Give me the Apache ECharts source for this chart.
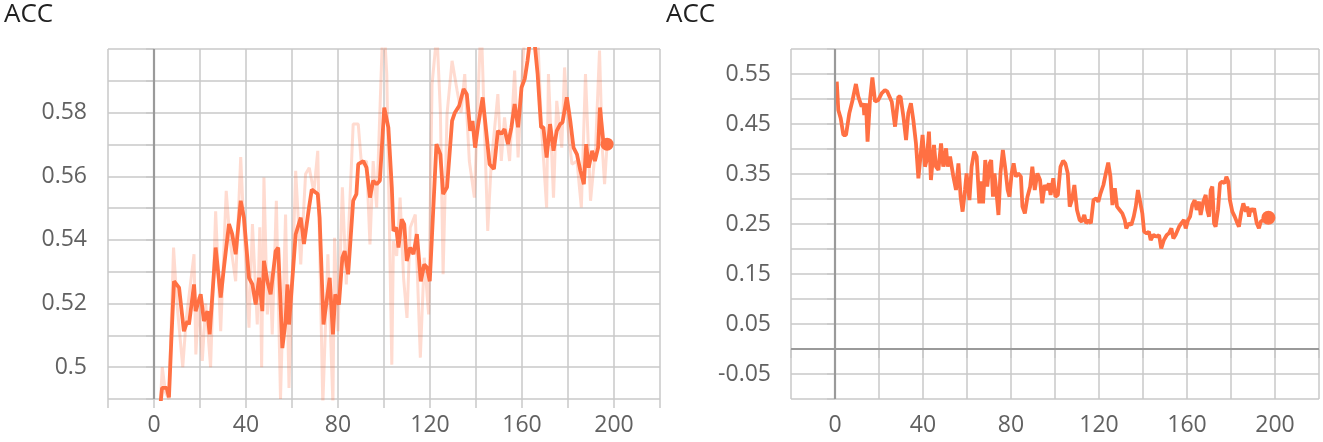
<!DOCTYPE html>
<html>
<head>
<meta charset="utf-8">
<script src="https://cdn.jsdelivr.net/npm/echarts@6/dist/echarts.min.js"></script>
<style>
html,body{margin:0;padding:0;background:#fff;}
#c{width:1323px;height:442px;}
</style>
</head>
<body>
<div id="c"></div>
<script>
// ---- data (step, value) ----
const titles = ['ACC', 'ACC'];

const leftSmooth = [[0,0.475],[2,0.482],[3.5,0.4935],[5.5,0.4935],[6.5,0.4905],[7.5,0.508],[8.7,0.527],[10.9,0.525],[13,0.5113],[14.5,0.5145],
[15.2,0.5134],[17.4,0.526],[18.1,0.5176],[20.3,0.5229],[21.7,0.5145],[23.2,0.5176],[24.2,0.5103],[26.8,0.5376],[29,0.5219],[30.4,0.5313],
[32.6,0.545],[34,0.5418],[35.5,0.5355],[37.7,0.5523],[39.1,0.547],[41.3,0.5281],[42.8,0.526],[44.2,0.5197],[45.7,0.5281],[47.1,0.5176],
[47.8,0.5334],[49.3,0.527],[50.7,0.5229],[52.9,0.5365],[54,0.5376],[55.8,0.506],[57.2,0.5145],[58,0.526],[58.7,0.5134],[61.6,0.5418],
[63.8,0.547],[65.2,0.5387],[67.4,0.5502],[68.6,0.5558],[71.2,0.5544],[72,0.547],[73.7,0.5134],[76.4,0.5281],[77.8,0.5103],[78.8,0.5229],
[80.4,0.5197],[81.9,0.5344],[82.9,0.5365],[84.4,0.5292],[86.6,0.5523],[88,0.5544],[88.8,0.5638],[91,0.5648],[92.4,0.5627],[93.9,0.5533],
[95.3,0.5586],[96.8,0.5575],[98.2,0.5586],[100.1,0.5816],[101.9,0.5753],[103.4,0.5565],[104.1,0.5428],[105.3,0.5439],[106.3,0.5376],[107.7,0.5465],
[108.8,0.5449],[109.9,0.5334],[111.4,0.5376],[112.8,0.5355],[114.3,0.5418],[116,0.527],[117.5,0.5323],[118.7,0.5313],[119.9,0.527],[121.6,0.5523],
[122.8,0.5701],[124.5,0.5669],[125.7,0.5544],[127.4,0.5565],[129.6,0.5774],[130.8,0.58],[132.7,0.5822],[134.6,0.5874],[136,0.5858],[137.5,0.5743],
[138.5,0.5774],[139.6,0.569],[141,0.5764],[142.9,0.5848],[144.4,0.5743],[145.9,0.5638],[147.8,0.5623],[149.5,0.5743],[151,0.5733],[152.4,0.5748],
[153.9,0.5701],[155.4,0.5754],[156.8,0.5827],[158.3,0.5754],[159.8,0.5879],[161.2,0.5906],[162.4,0.5963],[164,0.606],[165.6,0.601],[166.8,0.5921],
[168.3,0.5754],[169.3,0.5754],[170.7,0.5659],[172.2,0.5764],[173.7,0.568],[175.1,0.5743],[176.6,0.5764],[177.6,0.5769],[179.5,0.5848],[181,0.5774],
[182.4,0.569],[183.9,0.5669],[185.4,0.5617],[186.9,0.5575],[187.9,0.5701],[189,0.5627],[190.5,0.568],[191.7,0.5648],[193.1,0.569],[193.9,0.5816],
[194.9,0.5743],[195.6,0.569],[197,0.5701]];

const leftRaw = [[0,0.47],[2.5,0.485],[3.6,0.5],[5,0.492],[6.5,0.49],[8.5,0.5376],[10,0.52],[12.5,0.5],[14,0.515],[17.4,0.5355],
[18.2,0.504],[19.5,0.522],[21,0.502],[22.5,0.52],[24.6,0.5],[26.8,0.549],[29,0.5113],[31.4,0.5554],[33,0.54],[35.5,0.527],
[37.7,0.566],[39,0.545],[41.3,0.5124],[42.8,0.545],[44.9,0.5134],[46,0.544],[46.8,0.5],[47.8,0.5596],[49.3,0.5166],[50.5,0.53],
[51.4,0.5103],[53.2,0.5523],[55,0.49],[57.2,0.548],[58.7,0.4935],[61.6,0.5617],[63.8,0.5323],[65.9,0.5607],[67.5,0.5627],[69.5,0.555],
[71.2,0.568],[73.4,0.488],[75.6,0.5355],[77.8,0.488],[78.5,0.5407],[80,0.5113],[81.9,0.5565],[83.6,0.526],[86.6,0.5764],[88.8,0.5764],
[90.2,0.5638],[92.4,0.5648],[93.9,0.5386],[95.3,0.5648],[96.8,0.5502],[99.7,0.612],[101.2,0.5921],[103.4,0.5008],[104.1,0.5397],[105.5,0.535],
[107,0.5533],[108.5,0.5281],[110,0.5155],[111.4,0.5439],[113.6,0.548],[115.8,0.503],[117.5,0.5344],[119.4,0.5166],[120.9,0.589],[123,0.605],
[124.5,0.5806],[125.7,0.5292],[127.4,0.5795],[129.6,0.5963],[131.8,0.5869],[133.5,0.58],[135.1,0.5921],[137.1,0.5648],[139.3,0.5533],[142.2,0.61],
[145.1,0.5428],[146.6,0.5638],[149.5,0.5858],[151,0.5648],[152.4,0.5785],[154.6,0.5648],[156.8,0.5932],[158.3,0.5659],[160.5,0.5974],[162,0.612],
[164,0.61],[166.4,0.612],[168.5,0.575],[170.7,0.5502],[171.5,0.5921],[173.7,0.5533],[175.1,0.5837],[177.3,0.569],[178.5,0.5942],[180,0.575],
[181.7,0.5638],[183.9,0.5648],[185.8,0.5502],[187.6,0.5921],[189.8,0.5523],[192,0.569],[193.7,0.5995],[194.9,0.569],[195.9,0.5575],[197,0.5701]];

const rightValues = [[0.8,0.5347],[1.5,0.478],[2.6,0.4613],[3.8,0.428],[5,0.428],[6.5,0.4713],[8,0.498],[9.5,0.53],[10.6,0.5047],[12.1,0.4847],
[12.9,0.4913],[13.3,0.468],[14.1,0.4913],[14.8,0.4147],[15.9,0.498],[17,0.5433],[18.2,0.4947],[19.7,0.498],[21.2,0.5113],[22.7,0.518],
[23.8,0.5147],[24.7,0.5113],[25.8,0.4947],[27.3,0.4447],[28.8,0.5047],[29.8,0.5047],[31.1,0.4647],[32.3,0.418],[33.3,0.4713],[34.5,0.4913],
[35.6,0.458],[36.8,0.4113],[37.9,0.3413],[38.6,0.338],[39.8,0.428],[40.9,0.3647],[41.7,0.378],[42.7,0.4347],[43.6,0.338],[45,0.408],
[45.9,0.3647],[47,0.358],[48.2,0.4113],[49.2,0.3647],[50.5,0.4013],[51.2,0.3647],[52.3,0.3847],[53.8,0.3447],[55,0.318],[56.1,0.3713],
[57.1,0.3047],[58,0.2747],[59.1,0.318],[59.8,0.3513],[61.1,0.298],[62.1,0.3647],[63.3,0.3947],[64.4,0.3847],[65.6,0.2913],[66.5,0.335],
[67.3,0.2913],[68.3,0.378],[69.2,0.3247],[70.3,0.3713],[71,0.378],[71.8,0.3047],[72.5,0.3513],[73.3,0.318],[74.3,0.268],[75.2,0.3513],
[76.3,0.398],[77.3,0.3647],[78.5,0.318],[79.3,0.3047],[80.3,0.3513],[81.2,0.3713],[82.2,0.3447],[83.3,0.3513],[84.5,0.3447],[85.2,0.2847],
[86.3,0.2713],[87.5,0.3047],[88.7,0.3247],[89.7,0.3647],[90.8,0.318],[92,0.3513],[93.2,0.338],[94.2,0.2913],[95.3,0.328],[96.2,0.318],
[97.2,0.3313],[98,0.308],[99.2,0.3413],[100.2,0.3047],[101.3,0.308],[102.5,0.3647],[103.7,0.3767],[104.7,0.3713],[105.8,0.3513],[106.7,0.2847],
[107.7,0.298],[108.8,0.328],[110,0.278],[111.2,0.258],[112.2,0.2547],[113.3,0.268],[114.2,0.2513],[115.2,0.258],[116.3,0.2513],[117.5,0.298],
[118.7,0.3013],[119.7,0.2947],[120.7,0.3113],[122,0.328],[123.1,0.3513],[124.2,0.3727],[125.2,0.3447],[126.1,0.288],[127.2,0.3213],[128.2,0.2847],
[129.4,0.278],[130.6,0.2713],[131.7,0.258],[132.4,0.2413],[133.6,0.2513],[134.7,0.248],[135.8,0.265],[136.7,0.2847],[137.7,0.318],[138.6,0.3213],
[139.7,0.2713],[140.5,0.2347],[141.7,0.2313],[142.7,0.2347],[143.5,0.218],[144.7,0.228],[146.2,0.2247],[147.3,0.228],[148.3,0.2013],[149.5,0.218],
[150.8,0.228],[151.8,0.2313],[152.9,0.2413],[153.8,0.2213],[154.8,0.228],[156.4,0.2447],[157.4,0.2513],[158.6,0.258],[159.4,0.2413],[160.5,0.258],
[161.4,0.2647],[162.4,0.288],[163.5,0.298],[164.4,0.278],[165.5,0.2947],[166.2,0.268],[167.4,0.2947],[168.5,0.308],[169.2,0.278],[170,0.2647],
[170.8,0.318],[171.5,0.3247],[172.3,0.2513],[173,0.2447],[174.1,0.278],[175,0.3313],[176.1,0.3347],[177.1,0.3313],[177.9,0.3447],[178.8,0.3347],
[179.5,0.298],[180.6,0.2747],[181.7,0.2647],[182.6,0.2547],[183.6,0.2447],[184.7,0.2747],[185.6,0.2913],[186.7,0.2747],[187.4,0.2847],[188.2,0.2647],
[188.9,0.2813],[189.7,0.2747],[190.5,0.2813],[191.7,0.2513],[192.7,0.2413],[193.5,0.2547],[194.2,0.258],[195.8,0.2613],[197,0.2625]];

const xTickLabels = [0, 40, 80, 120, 160, 200];
const leftYTickLabels = [0.5, 0.52, 0.54, 0.56, 0.58];
const rightYTickLabels = [-0.05, 0.05, 0.15, 0.25, 0.35, 0.45, 0.55];

// ---- styles ----
const FONT = 'Open Sans';
const ORANGE = '#ff7043';
const GRID = '#c9c9c9';
const ZERO = '#9a9a9a';
const LABEL = '#616161';

function near(list, v) { return list.some(t => Math.abs(t - v) < 1e-6); }

function xAxisCfg(gi) {
  return {
    gridIndex: gi, type: 'value', min: -20, max: 220, interval: 20,
    axisLine: { show: false },
    axisTick: { show: true, length: 9, lineStyle: { color: GRID, width: 1.5 } },
    splitLine: { show: true, lineStyle: { color: GRID, width: 1.5 } },
    axisLabel: {
      fontFamily: FONT, fontSize: 23, color: LABEL, margin: 15,
      showMinLabel: true, showMaxLabel: true,
      formatter: v => near(xTickLabels, v) ? String(Math.round(v)) : ''
    }
  };
}

function yAxisCfg(gi, min, max, interval, labels, margin) {
  return {
    gridIndex: gi, type: 'value', min: min, max: max, interval: interval,
    axisLine: { show: false },
    axisTick: { show: true, length: 8, lineStyle: { color: GRID, width: 1.5 } },
    splitLine: { show: true, lineStyle: { color: GRID, width: 1.5 } },
    axisLabel: {
      fontFamily: FONT, fontSize: 23, color: LABEL, margin: margin,
      showMinLabel: true, showMaxLabel: true,
      formatter: v => near(labels, v) ? String(+v.toFixed(2)) : ''
    }
  };
}

const zeroLineStyle = { color: ZERO, width: 2.2, type: 'solid' };

const option = {
  animation: false,
  backgroundColor: '#ffffff',
  title: [
    { text: titles[0], left: -1, top: -3, textStyle: { fontFamily: FONT, fontSize: 26, fontWeight: 'normal', color: '#212121' } },
    { text: titles[1], left: 661, top: -3, textStyle: { fontFamily: FONT, fontSize: 26, fontWeight: 'normal', color: '#212121' } }
  ],
  grid: [
    { left: 108, right: 663, top: 49, bottom: 43 },
    { left: 791, right: 4, top: 49, bottom: 43 }
  ],
  xAxis: [xAxisCfg(0), xAxisCfg(1)],
  yAxis: [
    yAxisCfg(0, 0.49, 0.6, 0.01, leftYTickLabels, 21),
    yAxisCfg(1, -0.1, 0.6, 0.05, rightYTickLabels, 20)
  ],
  series: [
    {
      type: 'line', xAxisIndex: 0, yAxisIndex: 0, data: leftRaw,
      symbol: 'none', clip: true, z: 2,
      lineStyle: { color: ORANGE, width: 3, opacity: 0.25 },
      markLine: { silent: true, symbol: ['none', 'none'], label: { show: false },
        lineStyle: zeroLineStyle, data: [{ xAxis: 0 }] }
    },
    {
      type: 'line', xAxisIndex: 0, yAxisIndex: 0, data: leftSmooth,
      symbol: 'none', clip: true, z: 3,
      lineStyle: { color: ORANGE, width: 3.8 }
    },
    {
      type: 'scatter', xAxisIndex: 0, yAxisIndex: 0,
      data: [leftSmooth[leftSmooth.length - 1]],
      symbolSize: 13, itemStyle: { color: ORANGE, opacity: 1 }, z: 4
    },
    {
      type: 'line', xAxisIndex: 1, yAxisIndex: 1, data: rightValues,
      symbol: 'none', clip: true, z: 3,
      lineStyle: { color: ORANGE, width: 3.8 },
      markLine: { silent: true, symbol: ['none', 'none'], label: { show: false },
        lineStyle: zeroLineStyle, data: [{ xAxis: 0 }, { yAxis: 0 }] }
    },
    {
      type: 'scatter', xAxisIndex: 1, yAxisIndex: 1,
      data: [rightValues[rightValues.length - 1]],
      symbolSize: 14, itemStyle: { color: ORANGE, opacity: 1 }, z: 4
    }
  ]
};

const chart = echarts.init(document.getElementById('c'), null, { renderer: 'canvas' });
chart.setOption(option);
</script>
</body>
</html>
